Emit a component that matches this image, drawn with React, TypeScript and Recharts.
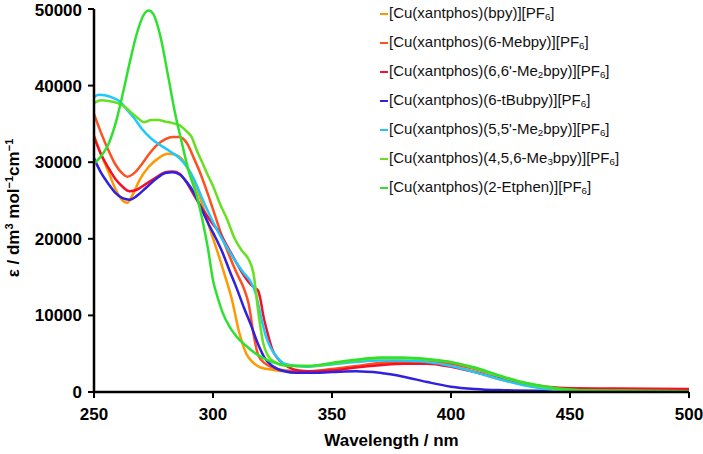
import { Label, Line, LineChart, XAxis, YAxis } from "recharts";

const FONT = "'Liberation Sans', Arial, sans-serif";

const WAVELENGTH_TICKS = [250, 300, 350, 400, 450, 500];
const EPSILON_TICKS = [0, 10000, 20000, 30000, 40000, 50000];

// [wavelength nm, epsilon]
const BPY: [number, number][] = [
  [250, 33500], [253, 31000], [256, 28800], [259, 26500], [262, 25000], [264, 24700],
  [266, 25600], [269, 27600], [273, 29400], [277, 30500], [281, 31100], [284, 31000],
  [287, 30400], [290, 28800], [293, 26800], [296, 24000], [299, 21000], [302, 18200],
  [305, 15200], [308, 12000], [311, 7800], [314, 5000], [317, 3800], [320, 3200],
  [325, 2900], [330, 2700], [340, 2700], [350, 2900], [360, 3300], [370, 3700],
  [380, 3900], [390, 3900], [400, 3400], [410, 2600], [420, 1700], [430, 1000],
  [440, 500], [450, 250], [470, 150], [500, 100],
];

const ME_BPY: [number, number][] = [
  [250, 36300], [253, 33800], [256, 31600], [259, 29700], [262, 28500], [264, 28100],
  [267, 28600], [270, 29700], [273, 31000], [276, 32100], [280, 33000], [283, 33300],
  [286, 33300], [289, 32500], [292, 30500], [295, 28300], [298, 25700], [301, 22900],
  [304, 20100], [307, 17700], [310, 15500], [313, 13500], [315, 11500], [317, 7600],
  [319, 4800], [322, 3700], [326, 3100], [330, 2800], [340, 2700], [350, 3000],
  [360, 3400], [370, 3800], [380, 4000], [390, 4000], [400, 3700], [410, 3000],
  [420, 2100], [430, 1200], [440, 600], [450, 300], [470, 200], [500, 150],
];

const ME2_66_BPY: [number, number][] = [
  [250, 33300], [253, 31000], [256, 29300], [259, 27800], [262, 26800], [265, 26200],
  [268, 26400], [272, 27200], [276, 28000], [280, 28700], [283, 28800], [286, 28500],
  [289, 27300], [292, 25700], [296, 23700], [300, 21900], [303, 20700], [306, 19000],
  [310, 16800], [313, 15200], [316, 14000], [318, 13500], [319, 13200], [320, 12000],
  [321, 10200], [323, 7600], [325, 5500], [328, 4100], [332, 3200], [336, 2800],
  [340, 2700], [350, 2800], [360, 3200], [370, 3500], [380, 3700], [390, 3700],
  [400, 3300], [410, 2600], [420, 1800], [430, 1100], [440, 700], [450, 500],
  [470, 450], [500, 400],
];

const TBU_BPY: [number, number][] = [
  [250, 30500], [253, 28600], [256, 27200], [259, 26000], [262, 25300], [265, 25100],
  [268, 25600], [272, 26700], [276, 27800], [280, 28600], [283, 28700], [286, 28400],
  [289, 27400], [292, 26000], [295, 24000], [298, 22000], [301, 20200], [304, 18200],
  [307, 15800], [310, 13500], [313, 11000], [316, 8700], [319, 6200], [322, 4300],
  [325, 3400], [330, 2700], [335, 2500], [340, 2500], [350, 2600], [360, 2700],
  [370, 2500], [380, 2000], [390, 1300], [400, 700], [410, 400], [420, 250],
  [440, 150], [470, 100], [500, 100],
];

const ME2_55_BPY: [number, number][] = [
  [250, 38500], [252, 38800], [255, 38700], [258, 38400], [261, 37900], [264, 36800],
  [267, 35700], [270, 34400], [274, 33100], [278, 32200], [282, 31400], [286, 30500],
  [289, 29400], [292, 27800], [295, 25600], [298, 23500], [302, 21000], [306, 18800],
  [310, 16800], [313, 15500], [316, 14300], [318, 12800], [320, 10000], [322, 7500],
  [324, 5900], [327, 4500], [330, 3700], [335, 3400], [340, 3300], [350, 3600],
  [360, 3900], [370, 4100], [380, 4100], [390, 3900], [400, 3400], [410, 2600],
  [420, 1700], [430, 900], [440, 400], [450, 200], [470, 100], [500, 100],
];

const ME3_BPY: [number, number][] = [
  [250, 37700], [253, 38100], [256, 38000], [260, 37700], [263, 37200], [266, 36400],
  [269, 35600], [271, 35200], [274, 35500], [277, 35500], [280, 35300], [283, 35100],
  [286, 34800], [289, 34000], [291, 33300], [293, 31700], [296, 29600], [298, 28200],
  [300, 26900], [303, 24500], [306, 22500], [309, 20100], [312, 18500], [315, 17300],
  [317, 15500], [319, 10500], [321, 6500], [323, 4800], [326, 3900], [330, 3500],
  [340, 3400], [350, 3700], [360, 4100], [370, 4400], [380, 4400], [390, 4200],
  [400, 3900], [410, 3100], [420, 2100], [430, 1200], [440, 600], [450, 300],
  [470, 150], [500, 100],
];

const ETPHEN: [number, number][] = [
  [250, 29800], [253, 30800], [256, 32300], [259, 35000], [262, 38800], [265, 43000],
  [268, 46800], [271, 49300], [273, 49800], [275, 49300], [278, 46300], [281, 41500],
  [284, 36500], [287, 32400], [290, 28600], [293, 25800], [296, 21800], [298, 18500],
  [300, 14600], [302, 12300], [304, 10400], [307, 8500], [310, 7200], [314, 6000],
  [318, 5000], [322, 4300], [327, 3700], [332, 3400], [340, 3400], [350, 3800],
  [360, 4200], [370, 4500], [380, 4500], [390, 4300], [400, 3900], [410, 3200],
  [420, 2200], [430, 1300], [440, 700], [450, 300], [470, 150], [500, 100],
];

// "_x" marks a subscript character
const SERIES = [
  { label: "[Cu(xantphos)(bpy)][PF_6]", color: "#FF9900", points: BPY },
  { label: "[Cu(xantphos)(6-Mebpy)][PF_6]", color: "#FF5020", points: ME_BPY },
  { label: "[Cu(xantphos)(6,6'-Me_2bpy)][PF_6]", color: "#F5102A", points: ME2_66_BPY },
  { label: "[Cu(xantphos)(6-tBubpy)][PF_6]", color: "#3020E0", points: TBU_BPY },
  { label: "[Cu(xantphos)(5,5'-Me_2bpy)][PF_6]", color: "#20C8FF", points: ME2_55_BPY },
  { label: "[Cu(xantphos)(4,5,6-Me_3bpy)][PF_6]", color: "#66E020", points: ME3_BPY },
  { label: "[Cu(xantphos)(2-Etphen)][PF_6]", color: "#30E030", points: ETPHEN },
];

function renderLabel(label: string) {
  const parts = label.split(/_(\d)/);
  return parts.map((p, i) =>
    i % 2 === 1 ? (
      <sub key={i} style={{ fontSize: "0.65em", verticalAlign: "-0.25em" }}>{p}</sub>
    ) : (
      <span key={i}>{p}</span>
    )
  );
}

function LegendList() {
  return (
    <div
      style={{
        position: "absolute",
        left: 380,
        top: -1,
        fontFamily: FONT,
        fontSize: 15,
        color: "#111",
      }}
    >
      {SERIES.map((s) => (
        <div key={s.label} style={{ height: 29, display: "flex", alignItems: "center", whiteSpace: "nowrap" }}>
          <span style={{ display: "inline-block", width: 8, height: 2, background: s.color, marginRight: 1 }} />
          <span>{renderLabel(s.label)}</span>
        </div>
      ))}
    </div>
  );
}

function YTitle() {
  return (
    <text
      transform="translate(19,208) rotate(-90)"
      textAnchor="middle"
      fontFamily={FONT}
      fontWeight="bold"
      fontSize={17}
      fill="#000"
    >
      ε / dm<tspan dy={-6} fontSize={11}>3</tspan>
      <tspan dy={6}> mol</tspan>
      <tspan dy={-6} fontSize={11}>−1</tspan>
      <tspan dy={6}>cm</tspan>
      <tspan dy={-6} fontSize={11}>−1</tspan>
    </text>
  );
}

const tickStyle = { fill: "#000", fontSize: 17, fontWeight: "bold", fontFamily: FONT };

export default function App() {
  return (
    <div style={{ position: "absolute", left: 0, top: 0, width: 703, height: 454, background: "#fff" }}>
      <LineChart width={703} height={454} margin={{ top: 9, right: 14, bottom: 0, left: 24 }}>
        <XAxis
          dataKey="nm"
          type="number"
          domain={[250, 500]}
          ticks={WAVELENGTH_TICKS}
          allowDuplicatedCategory={false}
          height={62}
          stroke="#000"
          strokeWidth={2.5}
          tickSize={6}
          tickMargin={10}
          tick={tickStyle}
          tickLine={{ stroke: "#000", strokeWidth: 2 }}
        >
          <Label
            value="Wavelength / nm"
            position="insideBottom"
            offset={8}
            style={{ fill: "#000", fontSize: 17, fontWeight: "bold", fontFamily: FONT }}
          />
        </XAxis>
        <YAxis
          type="number"
          domain={[0, 50000]}
          ticks={EPSILON_TICKS}
          width={70}
          stroke="#000"
          strokeWidth={2.5}
          tickSize={6}
          tickMargin={6}
          tick={tickStyle}
          tickLine={{ stroke: "#000", strokeWidth: 2 }}
        >
          <Label content={() => <YTitle />} />
        </YAxis>
        {SERIES.map((s) => (
          <Line
            key={s.label}
            name={s.label}
            data={s.points.map(([nm, eps]) => ({ nm, eps }))}
            dataKey="eps"
            type="monotone"
            stroke={s.color}
            strokeWidth={2.5}
            dot={false}
            activeDot={false}
            isAnimationActive={false}
          />
        ))}
      </LineChart>
      <LegendList />
    </div>
  );
}
